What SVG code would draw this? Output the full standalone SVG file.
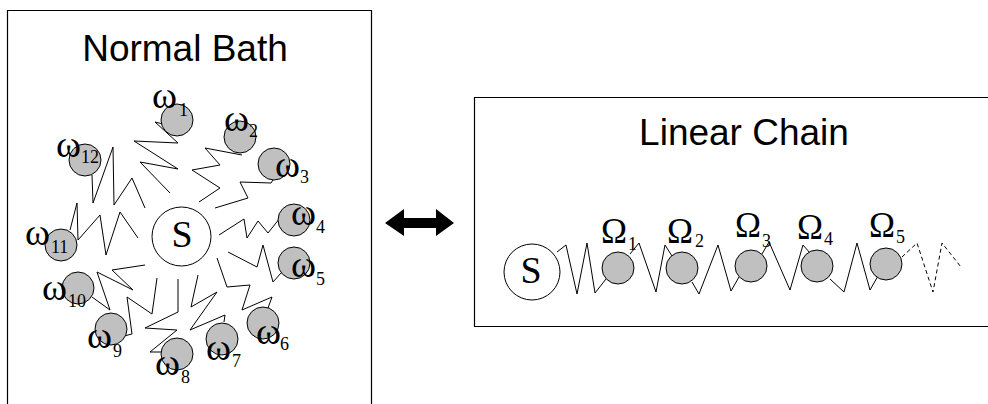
<svg xmlns="http://www.w3.org/2000/svg" width="988" height="404" viewBox="0 0 988 404">
  <style>
    .frame { fill: none; stroke: #000; stroke-width: 1.2; }
    .title { font-family: "Liberation Sans", Arial, sans-serif; font-size: 37px; fill: #000; }
    .sys { fill: #fff; stroke: #000; stroke-width: 1; }
    .sysLabel { font-family: "Liberation Serif", "Times New Roman", serif; font-size: 38px; fill: #000; text-anchor: middle; }
    .osc { fill: #c0c0c0; stroke: #000; stroke-width: 1; }
    .sym { font-family: "Liberation Serif", "Times New Roman", serif; font-size: 38px; fill: #000; }
    .cap { font-family: "Liberation Serif", "Times New Roman", serif; font-size: 35px; fill: #000; }
    .sub { font-family: "Liberation Serif", "Times New Roman", serif; font-size: 18px; fill: #000; }
    .spring { fill: none; stroke: #000; stroke-width: 1; stroke-linejoin: miter; }
    .spring.open { stroke-dasharray: 4 3; }
  </style>

  <!-- panel frames -->
  <g id="panel-bath">
    <polyline class="frame" points="7.5,404 7.5,10.5 371.5,10.5 371.5,404"/>
    <text class="title" x="185" y="61" text-anchor="middle">Normal Bath</text>
  </g>
  <g id="panel-chain">
    <polyline class="frame" points="990,97.5 474.5,97.5 474.5,326.5 990,326.5"/>
    <text class="title" x="744" y="145" text-anchor="middle">Linear Chain</text>
  </g>

  <!-- springs -->
  <g id="connectors">
    <!-- star coupling: system to each bath mode -->
    <polyline class="spring" points="163,124 155,122 178,143 134,141 178,169 140,162 170,193"/>
    <polyline class="spring" points="199,202 220,188 192,170 220,165 205,148 242,155"/>
    <polyline class="spring" points="215,208 248,198 240,182 271,183 273,180"/>
    <polyline class="spring" points="219,235 244,219 247,238 258,221 268,233 280,218"/>
    <polyline class="spring" points="281,273 273,282 263,245 257,267 228,252"/>
    <polyline class="spring" points="268,308 272,297 242,310 250,285 227,287 217,258"/>
    <polyline class="spring" points="224,322 225,315 190,330 217,292 191,307 198,275"/>
    <polyline class="spring" points="163,352 150,352 177,330 145,328 178,312 178,279"/>
    <polyline class="spring" points="124,336 132,334 127,297 152,314 157,278"/>
    <polyline class="spring" points="92,297 110,310 97,272 133,290 112,270 145,265"/>
    <polyline class="spring" points="70,230 77,203 78,240 100,215 106,255 120,212 138,238"/>
    <polyline class="spring" points="92,175 93,203 113,147 114,205 132,178 145,208"/>

    <!-- nearest-neighbour chain -->
    <polyline class="spring" points="557,252 566,245 577,294 587,243 595,293 606,279"/>
    <polyline class="spring" points="630,254 639,243 656,292 665,245 672,256"/>
    <polyline class="spring" points="692,282 699,294 718,245 731,291 739,277"/>
    <polyline class="spring" points="762,254 769,242 790,290 803,245 810,253"/>
    <polyline class="spring" points="830,279 844,292 857,243 870,290 878,276"/>
    <polyline class="spring open" points="902,257 917,243 933,292 942,243 961,267"/>
  </g>

  <!-- equivalence arrow -->
  <g id="mapping">
    <polygon fill="#000" points="385,223 404,209 404,218 436,218 436,209 454,223 436,236 436,228 404,228 404,236"/>
  </g>

  <!-- star-bath nodes -->
  <g id="bath-S">
    <circle class="sys" cx="181.5" cy="236.5" r="29.5"/>
    <text class="sysLabel" x="182" y="247">S</text>
  </g>
  <g id="w1"><circle class="osc" cx="177" cy="120" r="16"/><text class="sym" x="152" y="108">ω</text><text class="sub" x="179" y="116">1</text></g>
  <g id="w2"><circle class="osc" cx="240" cy="137" r="16"/><text class="sym" x="224" y="131">ω</text><text class="sub" x="249" y="137">2</text></g>
  <g id="w3"><circle class="osc" cx="274" cy="164" r="16"/><text class="sym" x="275" y="177">ω</text><text class="sub" x="300" y="183">3</text></g>
  <g id="w4"><circle class="osc" cx="294" cy="220" r="16"/><text class="sym" x="291" y="225">ω</text><text class="sub" x="316" y="233">4</text></g>
  <g id="w5"><circle class="osc" cx="294" cy="263" r="16"/><text class="sym" x="291" y="277">ω</text><text class="sub" x="316" y="285">5</text></g>
  <g id="w6"><circle class="osc" cx="263" cy="323" r="16"/><text class="sym" x="256" y="344">ω</text><text class="sub" x="280" y="350">6</text></g>
  <g id="w7"><circle class="osc" cx="222" cy="339" r="16"/><text class="sym" x="206" y="360">ω</text><text class="sub" x="232" y="367">7</text></g>
  <g id="w8"><circle class="osc" cx="177" cy="354" r="16"/><text class="sym" x="155" y="375">ω</text><text class="sub" x="181" y="383">8</text></g>
  <g id="w9"><circle class="osc" cx="111" cy="329" r="16"/><text class="sym" x="87" y="348">ω</text><text class="sub" x="113" y="357">9</text></g>
  <g id="w10"><circle class="osc" cx="78" cy="288" r="16"/><text class="sym" x="42" y="300">ω</text><text class="sub" x="68" y="307">10</text></g>
  <g id="w11"><circle class="osc" cx="61" cy="245" r="16"/><text class="sym" x="25" y="245">ω</text><text class="sub" x="51" y="253">11</text></g>
  <g id="w12"><circle class="osc" cx="85" cy="160" r="16"/><text class="sym" x="56" y="157">ω</text><text class="sub" x="81" y="163">12</text></g>

  <!-- chain nodes -->
  <g id="chain-S">
    <circle class="sys" cx="532" cy="272" r="28"/>
    <text class="sysLabel" x="531" y="283">S</text>
  </g>
  <g id="W1"><circle class="osc" cx="618" cy="268" r="16"/><text class="cap" x="601" y="243">Ω</text><text class="sub" x="628" y="250">1</text></g>
  <g id="W2"><circle class="osc" cx="682" cy="268" r="16"/><text class="cap" x="667" y="243">Ω</text><text class="sub" x="695" y="247">2</text></g>
  <g id="W3"><circle class="osc" cx="751" cy="266" r="16"/><text class="cap" x="735" y="237">Ω</text><text class="sub" x="762" y="247">3</text></g>
  <g id="W4"><circle class="osc" cx="817" cy="266" r="16"/><text class="cap" x="797" y="239">Ω</text><text class="sub" x="824" y="245">4</text></g>
  <g id="W5"><circle class="osc" cx="886" cy="264" r="16"/><text class="cap" x="869" y="237">Ω</text><text class="sub" x="896" y="243">5</text></g>
</svg>
